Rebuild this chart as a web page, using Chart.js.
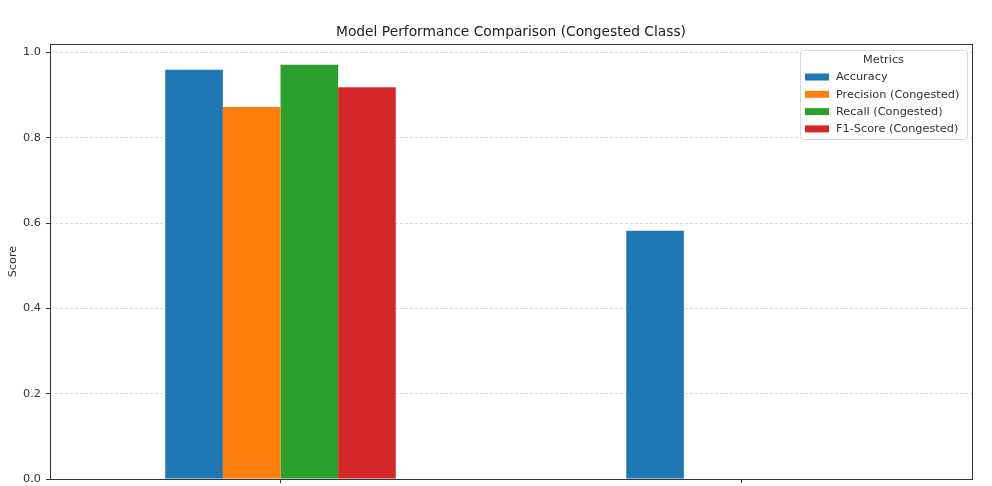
<!DOCTYPE html>
<html>
<head>
<meta charset="utf-8">
<title>Model Performance Comparison</title>
<script src="https://cdn.jsdelivr.net/npm/chart.js@4.4.0/dist/chart.umd.min.js"></script>
<style>
  html, body { margin: 0; padding: 0; background: #fff; }
  #wrap { width: 992px; height: 486px; }
</style>
</head>
<body>
<div id="wrap"><canvas id="perfChart" width="992" height="486"></canvas></div>
<script>
// ===== Data =====
const models = ["Model 1", "Model 2"];
const accuracy = [0.959, 0.582];
const precision = [0.872, 0];
const recall = [0.971, 0];
const f1Score = [0.918, 0];
const yTicks = [0.0, 0.2, 0.4, 0.6, 0.8, 1.0];
const chartTitle = "Model Performance Comparison (Congested Class)";

const FONT = "'DejaVu Sans', sans-serif";
const INK = "#333";

// frame, title (centred on the plot like matplotlib) and legend box
const framePlugin = {
  id: "frame",
  afterDraw(chart) {
    const { ctx, chartArea: a } = chart;
    ctx.save();
    ctx.strokeStyle = INK;
    ctx.lineWidth = 1;
    ctx.strokeRect(Math.round(a.left) + 0.5, Math.round(a.top) + 0.5,
      Math.round(a.right - a.left), Math.round(a.bottom - a.top));

    // title
    ctx.fillStyle = "#222";
    ctx.font = "13.8px " + FONT;
    ctx.textAlign = "center";
    ctx.textBaseline = "middle";
    ctx.fillText(chartTitle, (a.left + a.right) / 2, a.top - 12);

    // legend
    const boxW = 167, boxH = 89;
    const bx = a.right - 5 - boxW, by = a.top + 6;
    ctx.fillStyle = "rgba(255,255,255,0.8)";
    ctx.strokeStyle = "#d8d8d8";
    ctx.beginPath();
    ctx.roundRect(bx + 0.5, by + 0.5, boxW, boxH, 3);
    ctx.fill();
    ctx.stroke();

    ctx.fillStyle = INK;
    ctx.font = "11.3px " + FONT;
    ctx.fillText("Metrics", bx + boxW / 2, by + 10);

    ctx.textAlign = "left";
    chart.data.datasets.forEach((ds, i) => {
      const cy = by + 27 + i * 17.3;
      ctx.fillStyle = ds.backgroundColor;
      ctx.fillRect(bx + 5, cy - 3.5, 24, 7);
      ctx.fillStyle = INK;
      ctx.fillText(ds.label, bx + 36, cy + 0.5);
    });
    ctx.restore();
  }
};

document.addEventListener("DOMContentLoaded", () => {
  const ctx = document.getElementById("perfChart").getContext("2d");
  new Chart(ctx, {
    type: "bar",
    data: {
      labels: models,
      datasets: [
        { label: "Accuracy", data: accuracy, backgroundColor: "#1f77b4" },
        { label: "Precision (Congested)", data: precision, backgroundColor: "#ff7f0e" },
        { label: "Recall (Congested)", data: recall, backgroundColor: "#2ca02c" },
        { label: "F1-Score (Congested)", data: f1Score, backgroundColor: "#d62728" }
      ]
    },
    options: {
      responsive: false,
      animation: false,
      devicePixelRatio: 1,
      layout: { padding: { left: 0, right: 20, top: 44, bottom: 0 } },
      datasets: {
        bar: { categoryPercentage: 0.5, barPercentage: 1.0, borderWidth: 0 }
      },
      scales: {
        x: {
          type: "category",
          offset: true,
          grid: { drawOnChartArea: false, offset: false, drawTicks: true, tickLength: 4, tickColor: INK },
          border: { display: false },
          ticks: { display: false },
          afterFit: (scale) => { scale.height = 7; }
        },
        y: {
          min: 0,
          max: 1.0196,
          afterBuildTicks: (scale) => { scale.ticks = yTicks.map(v => ({ value: v })); },
          grid: {
            color: "rgba(190,190,190,0.7)",
            lineWidth: 0.8,
            tickLength: 4,
            tickColor: INK,
            tickBorderDash: [0, 0],
            tickWidth: 1
          },
          border: { display: false, dash: [3, 2] },
          ticks: {
            padding: 5,
            color: INK,
            font: { family: FONT, size: 11.3 },
            callback: (v) => Number(v).toFixed(1)
          },
          title: {
            display: true,
            text: "Score",
            color: INK,
            font: { family: FONT, size: 11.3 },
            padding: { top: 6, bottom: 0 }
          },
          afterFit: (scale) => {
            scale.width = 50;
            scale.paddingTop = 0;
            scale.paddingBottom = 0;
          }
        }
      },
      plugins: {
        legend: { display: false },
        tooltip: { enabled: false },
        title: { display: false }
      }
    },
    plugins: [framePlugin]
  });
});
</script>
</body>
</html>
